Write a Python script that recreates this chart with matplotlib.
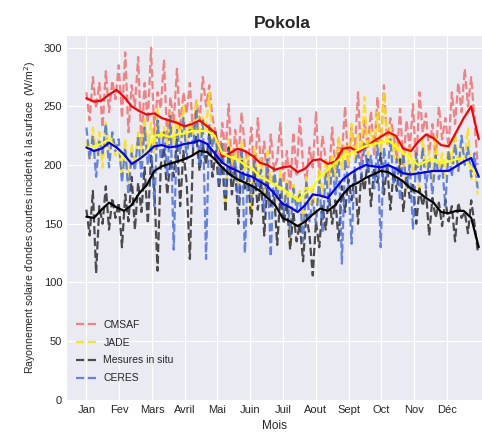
import numpy as np
import matplotlib
matplotlib.use('Agg')
import matplotlib.pyplot as plt

# mois (etiquettes de l'axe x)
mois = ['Jan', 'Fev', 'Mars', 'Avril', 'Mai', 'Juin', 'Juil', 'Aout', 'Sept', 'Oct', 'Nov', 'Déc']

# valeurs journalieres (lues tous les 3 jours)
cmsaf = [262, 238, 275, 248, 270, 232, 280, 245, 272, 256,
         285, 240, 296, 228, 268, 250, 292, 215, 270, 236,
         300, 225, 262, 248, 290, 220, 258, 236, 282, 230,
         262, 244, 270, 226, 255, 238, 275, 250, 268, 240,
         228, 198, 236, 210, 252, 190, 230, 205, 245, 215,
         200, 232, 185, 240, 198, 220, 180, 226, 196, 205,
         236, 185, 212, 178, 228, 192, 240, 200, 186, 215,
         198, 245, 190, 225, 205, 188, 232, 196, 222, 208,
         250, 198, 232, 212, 262, 200, 238, 215, 246, 208,
         258, 210, 268, 218, 240, 226, 205, 248, 200, 238,
         214, 252, 196, 262, 228, 244, 210, 235, 205, 250,
         222, 240, 215, 262, 235, 270, 245, 282, 250, 275,
         238, 200]
jade = [220, 205, 232, 210, 228, 198, 236, 212, 225, 208,
        215, 190, 222, 185, 218, 200, 228, 212, 240, 215,
        236, 210, 248, 220, 232, 214, 245, 218, 238, 222,
        250, 215, 238, 226, 255, 220, 242, 230, 262, 218,
        225, 195, 215, 168, 222, 198, 210, 182, 220, 196,
        208, 160, 215, 190, 205, 175, 212, 185, 198, 170,
        195, 160, 188, 132, 185, 168, 178, 150, 190, 165,
        180, 150, 196, 172, 205, 182, 210, 188, 225, 196,
        218, 200, 235, 205, 226, 212, 258, 208, 230, 215,
        245, 210, 262, 218, 232, 205, 220, 195, 212, 180,
        215, 192, 208, 175, 222, 198, 212, 186, 225, 195,
        210, 190, 218, 200, 228, 195, 215, 205, 232, 188,
        196, 175]
insitu = [162, 140, 178, 108, 165, 150, 182, 145, 172, 155,
          168, 130, 175, 152, 190, 145, 185, 160, 198, 150,
          208, 180, 110, 200, 215, 175, 205, 190, 222, 165,
          212, 185, 120, 215, 225, 195, 218, 200, 228, 190,
          212, 180, 205, 160, 215, 175, 198, 150, 205, 180,
          190, 150, 195, 162, 188, 140, 185, 165, 178, 132,
          175, 150, 168, 128, 160, 135, 150, 118, 158, 140,
          106, 152, 130, 165, 145, 175, 150, 170, 135, 182,
          160, 188, 170, 195, 150, 192, 178, 205, 165, 198,
          185, 210, 175, 200, 162, 195, 178, 205, 160, 190,
          172, 185, 150, 180, 165, 178, 140, 172, 155, 168,
          148, 170, 152, 165, 135, 168, 155, 160, 142, 170,
          150, 127]
ceres = [232, 205, 225, 190, 220, 210, 235, 198, 228, 212,
         222, 185, 215, 175, 210, 195, 225, 190, 232, 200,
         220, 165, 238, 205, 228, 190, 242, 128, 230, 210,
         240, 205, 232, 215, 248, 200, 238, 120, 235, 215,
         228, 185, 220, 175, 212, 190, 205, 165, 215, 125,
         200, 170, 208, 180, 196, 160, 205, 122, 198, 172,
         190, 158, 185, 140, 180, 162, 175, 135, 185, 152,
         170, 150, 188, 142, 195, 165, 200, 175, 210, 116,
         205, 185, 133, 200, 212, 190, 218, 195, 208, 180,
         220, 130, 215, 190, 222, 185, 205, 170, 210, 182,
         200, 145, 210, 185, 215, 180, 205, 175, 208, 188,
         200, 165, 212, 190, 218, 195, 225, 200, 215, 190,
         210, 180]

# moyennes glissantes (lues toutes les semaines)
cmsaf_lisse = [257, 254, 255, 260, 264, 258, 250, 246, 243, 244,
               240, 238, 236, 233, 235, 238, 233, 228, 207, 210,
               214, 212, 208, 202, 200, 196, 198, 199, 194, 197,
               204, 205, 201, 203, 214, 215, 211, 215, 220, 224,
               228, 225, 214, 212, 220, 226, 223, 217, 216, 228,
               240, 250, 222]
jade_lisse = [215, 216, 218, 222, 214, 206, 202, 205, 212, 225,
              226, 224, 226, 227, 229, 229, 229, 225, 210, 207,
              205, 200, 197, 190, 187, 183, 180, 175, 170, 176,
              181, 190, 196, 202, 207, 210, 213, 216, 218, 219,
              221, 216, 210, 205, 200, 203, 205, 203, 203, 205,
              206, 198, 190]
insitu_lisse = [156, 155, 162, 168, 164, 161, 166, 176, 183, 195,
                199, 201, 203, 205, 208, 212, 211, 205, 198, 192,
                188, 185, 182, 178, 172, 166, 155, 152, 148, 152,
                158, 163, 161, 166, 175, 182, 185, 189, 192, 195,
                194, 190, 186, 180, 177, 172, 168, 160, 159, 161,
                161, 155, 130]
ceres_lisse = [215, 212, 214, 219, 215, 209, 201, 205, 210, 216,
               217, 215, 216, 218, 219, 221, 218, 210, 202, 198,
               195, 192, 190, 186, 182, 175, 167, 164, 160, 166,
               175, 174, 172, 180, 188, 193, 197, 200, 199, 198,
               200, 197, 193, 192, 193, 194, 195, 195, 195, 199,
               203, 206, 190]

jours = np.arange(0, 366, 3)
jours_lisse = np.arange(0, 365, 7)

plt.style.use('seaborn-v0_8-darkgrid')
plt.rcParams['font.family'] = ['Liberation Sans', 'DejaVu Sans']

fig = plt.figure(figsize=(4.82, 4.38), dpi=100)
ax = fig.add_axes([0.139, 0.087, 0.861, 0.831])

ax.plot(jours, cmsaf, '--', color='#f07070', lw=1.6, alpha=0.85, label='CMSAF')
ax.plot(jours, jade, '--', color='#ffe000', lw=1.6, alpha=0.85, label='JADE')
ax.plot(jours, insitu, '--', color='#222222', lw=1.6, alpha=0.8, label='Mesures in situ')
ax.plot(jours, ceres, '--', color='#4169e1', lw=1.6, alpha=0.8, label='CERES')

ax.plot(jours_lisse, cmsaf_lisse, '-', color='red', lw=1.6)
ax.plot(jours_lisse, jade_lisse, '-', color='yellow', lw=1.6)
ax.plot(jours_lisse, insitu_lisse, '-', color='black', lw=1.6)
ax.plot(jours_lisse, ceres_lisse, '-', color='blue', lw=1.6)

ax.set_xlim(-18, 367)
ax.set_ylim(0, 310)
ax.set_xticks(np.arange(12) * 30.4)
ax.set_xticklabels(mois, fontsize=8)
ax.set_yticks(np.arange(0, 301, 50))
ax.tick_params(axis='y', labelsize=8)
ax.set_xlabel('Mois', fontsize=8.5)
ax.set_ylabel("Rayonnement solaire d'ondes courtes incident à la surface  (W/m$^2$)", fontsize=7.6)
ax.set_title('Pokola', fontsize=12.5, fontweight='bold', x=0.52)

ax.legend(loc='lower left', fontsize=7.5, frameon=False, handlelength=2.1,
          handletextpad=0.5, labelspacing=0.75, bbox_to_anchor=(0.0, 0.02))

fig.savefig('out.png', dpi=100)
